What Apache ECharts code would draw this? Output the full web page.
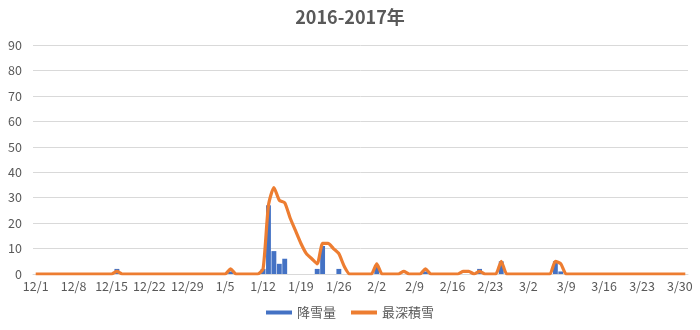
<!DOCTYPE html>
<html>
<head>
<meta charset="utf-8">
<script src="https://cdn.jsdelivr.net/npm/echarts@6/dist/echarts.min.js"></script>
<style>
  html, body { margin: 0; padding: 0; background: #fff; }
  #chart { width: 700px; height: 330px; }
</style>
</head>
<body>
<div id="chart"></div>
<script>
// Season months: month number and number of days shown
const months = [12, 1, 2, 3];
const monthDays = [31, 31, 28, 31];

// 降雪量 (cm) per day, one array per month
const snowDec = [0,0,0,0,0,0,0,0,0,0, 0,0,0,0,0,2,0,0,0,0, 0,0,0,0,0,0,0,0,0,0, 0];
const snowJan = [0,0,0,0,0,1,0,0,0,0, 0,2,27,9,4,6,0,0,0,0, 0,2,11,0,0,2,0,0,0,0, 0];
const snowFeb = [0,3,0,0,0,0,0,0,0,0, 1,0,0,0,0,0,0,0,0,0, 2,0,0,0,5,0,0,0];
const snowMar = [0,0,0,0,0,0,5,1,0,0, 0,0,0,0,0,0,0,0,0,0, 0,0,0,0,0,0,0,0,0,0, 0];

// 最深積雪 (cm) per day
const depthDec = [0,0,0,0,0,0,0,0,0,0, 0,0,0,0,0,1,0,0,0,0, 0,0,0,0,0,0,0,0,0,0, 0];
const depthJan = [0,0,0,0,0,2,0,0,0,0, 0,2,27,34,29,28,22,17,12,8, 6,4,12,12,10,8,3,0,0,0, 0];
const depthFeb = [0,4,0,0,0,0,1,0,0,0, 2,0,0,0,0,0,0,1,1,0, 1,0,0,0,5,0,0,0];
const depthMar = [0,0,0,0,0,0,5,4,0,0, 0,0,0,0,0,0,0,0,0,0, 0,0,0,0,0,0,0,0,0,0, 0];

// Date labels "M/D"
const categories = [];
months.forEach((m, i) => {
  for (let d = 1; d <= monthDays[i]; d++) categories.push(m + '/' + d);
});

const snowfall = [].concat(snowDec, snowJan, snowFeb, snowMar);
const snowDepth = [].concat(depthDec, depthJan, depthFeb, depthMar);

const textColor = '#595959';
const font = '"Noto Sans CJK JP", "Noto Sans", sans-serif';

const chart = echarts.init(document.getElementById('chart'), null, { renderer: 'canvas' });
chart.setOption({
  animation: false,
  backgroundColor: '#ffffff',
  textStyle: { fontFamily: font },
  title: {
    text: '2016-2017年',
    left: 'center',
    top: 3,
    textStyle: { fontSize: 18, fontWeight: 'bold', color: textColor, fontFamily: font }
  },
  legend: {
    bottom: 6,
    left: 'center',
    itemGap: 15,
    itemWidth: 26,
    itemHeight: 4,
    textStyle: { fontSize: 13, color: textColor, fontFamily: font },
    data: [
      { name: '降雪量', icon: 'rect' },
      { name: '最深積雪', icon: 'rect' }
    ]
  },
  grid: { left: 33, right: 12, top: 45, bottom: 56, containLabel: false },
  xAxis: {
    type: 'category',
    data: categories,
    boundaryGap: true,
    axisLine: { lineStyle: { color: '#d9d9d9', width: 1 } },
    axisTick: { interval: 6, length: 4, lineStyle: { color: '#d9d9d9' } },
    axisLabel: { interval: 6, color: textColor, fontSize: 12.5, margin: 6, fontFamily: font }
  },
  yAxis: {
    type: 'value',
    min: 0,
    max: 90,
    interval: 10,
    axisLine: { show: false },
    axisTick: { show: false },
    axisLabel: { color: textColor, fontSize: 12.5, margin: 11, fontFamily: font },
    splitLine: { lineStyle: { color: '#d9d9d9', width: 1 } }
  },
  series: [
    {
      name: '降雪量',
      type: 'bar',
      data: snowfall,
      barWidth: '90%',
      itemStyle: { color: '#4472C4' }
    },
    {
      name: '最深積雪',
      type: 'line',
      data: snowDepth,
      smooth: 0.2,
      showSymbol: false,
      symbol: 'none',
      lineStyle: { color: '#ED7D31', width: 3.2 },
      itemStyle: { color: '#ED7D31' }
    }
  ]
});
</script>
</body>
</html>
